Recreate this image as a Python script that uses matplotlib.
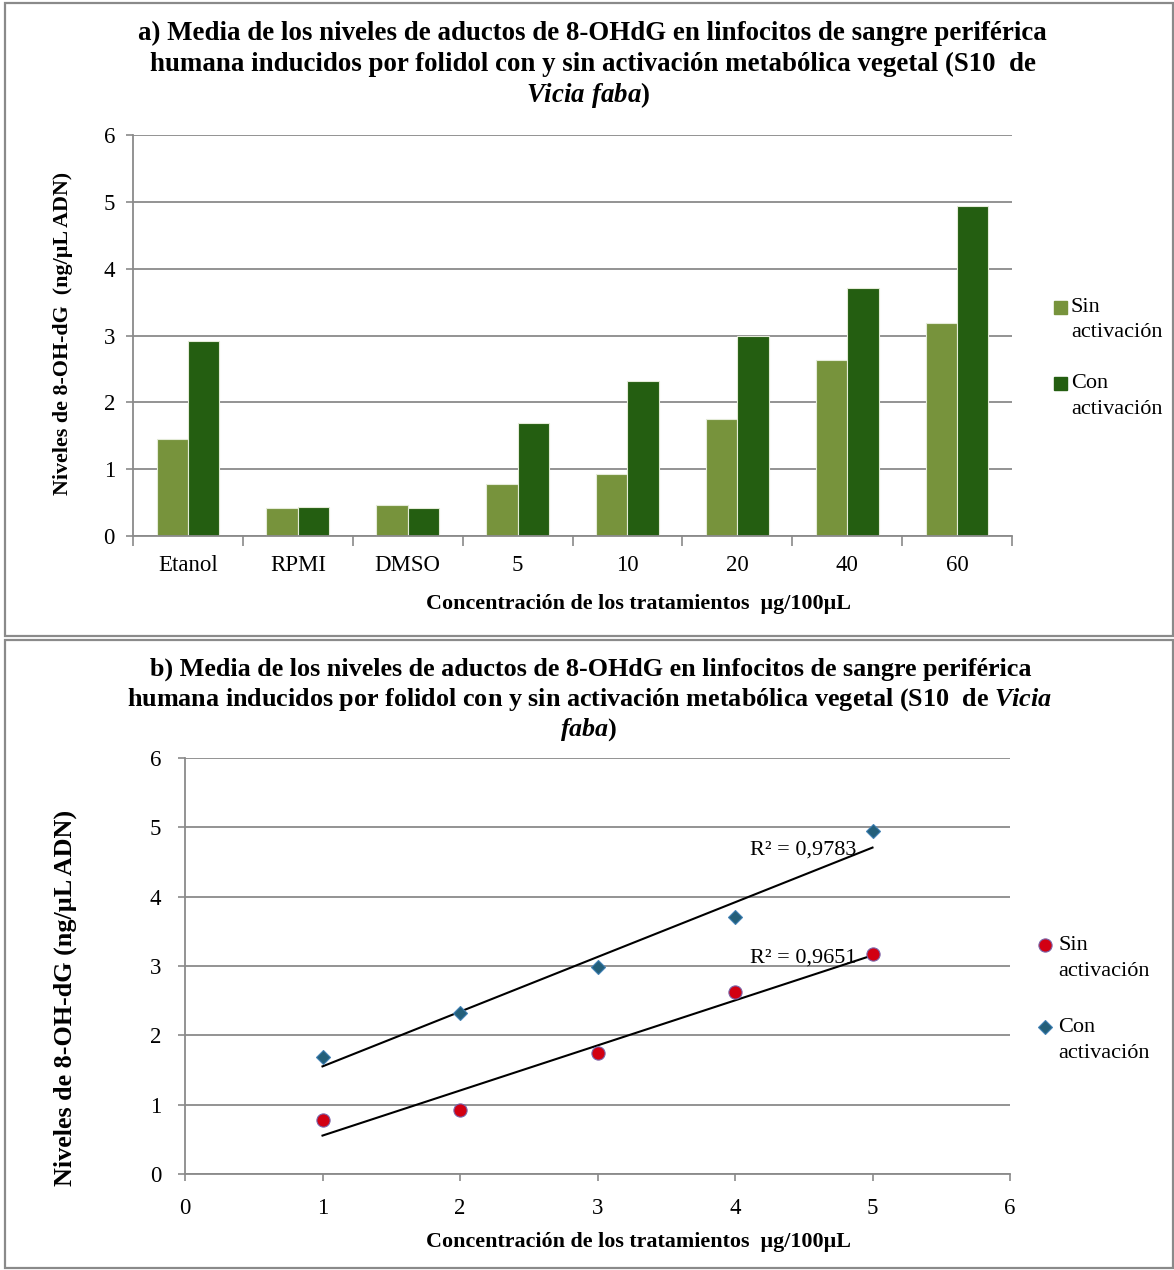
import numpy as np
import matplotlib
matplotlib.use("Agg")
import matplotlib.pyplot as plt
from matplotlib.patches import Rectangle
from matplotlib.lines import Line2D

plt.rcParams["font.family"] = ["Liberation Serif", "DejaVu Serif"]
plt.rcParams["mathtext.fontset"] = "custom"
plt.rcParams["mathtext.it"] = "Liberation Serif:italic:bold"
plt.rcParams["mathtext.rm"] = "Liberation Serif:bold"

# mean 8-OHdG adduct levels (ng/uL DNA)
categories = ["Etanol", "RPMI", "DMSO", "5", "10", "20", "40", "60"]
sin_activacion = [1.45, 0.42, 0.46, 0.78, 0.93, 1.75, 2.63, 3.18]
con_activacion = [2.92, 0.44, 0.42, 1.69, 2.32, 2.99, 3.71, 4.94]

# scatter panel: treatment doses only, plotted at positions 1..5
dose_pos = [1, 2, 3, 4, 5]
sin_dosis = sin_activacion[3:]
con_dosis = con_activacion[3:]
r2_labels = {"con": "R² = 0,9783", "sin": "R² = 0,9651"}

C_SIN = "#77933c"
C_CON = "#245e11"
GRID = "#8a8a8a"
W, H = 1174, 1270

fig = plt.figure(figsize=(W / 100, H / 100), dpi=100)


def fx(px):
    return px / W


def fy(py):
    return 1 - py / H


def style_axes(ax):
    ax.set_ylim(0, 6)
    ax.set_yticks(range(7))
    ax.yaxis.grid(True, color=GRID, lw=1.3)
    ax.set_axisbelow(True)
    for s in ("top", "right"):
        ax.spines[s].set_visible(False)
    for s in ("left", "bottom"):
        ax.spines[s].set_color(GRID)
        ax.spines[s].set_linewidth(1.3)
    ax.tick_params(colors=GRID, labelcolor="black", labelsize=16.5,
                   length=5, width=1.2, direction="out")


# panel frames
for y0, y1 in ((3, 636), (640, 1268)):
    fig.patches.append(Rectangle((fx(5), fy(y1)), fx(1168), (y1 - y0) / H,
                                 transform=fig.transFigure, fill=False,
                                 ec="#8a8a8a", lw=1.6))

# ---- a) bars
ax1 = fig.add_axes([fx(133), fy(536), fx(1012 - 133), (536 - 135) / H])
x = np.arange(len(categories))
w = 0.286
ax1.bar(x - w / 2, sin_activacion, w, color=C_SIN, ec="#e4ebd8", lw=0.8)
ax1.bar(x + w / 2, con_activacion, w, color=C_CON, ec="#e4ebd8", lw=0.8)
ax1.set_xlim(-0.5, len(categories) - 0.5)
style_axes(ax1)
ax1.set_xticks(x, categories)
ax1.set_xticks(np.arange(-0.5, len(categories)), minor=True)
ax1.tick_params(axis="x", which="major", length=0, pad=14)
ax1.tick_params(axis="x", which="minor", length=7, width=1.2, color=GRID)
ax1.tick_params(axis="y", pad=8)

ta = dict(ha="center", va="center", fontsize=19.4, fontweight="bold")
fig.text(fx(592), fy(33), "a) Media de los niveles de aductos de 8-OHdG en "
         "linfocitos de sangre periférica", **ta)
fig.text(fx(593), fy(64), "humana inducidos por folidol con y sin activación "
         "metabólica vegetal (S10  de", **ta)
fig.text(fx(588), fy(95), r"$\mathit{Vicia\ faba}$)", **ta)

fig.text(fx(63), fy(333), "Niveles de 8-OH-dG  (ng/µL ADN)", rotation=90,
         ha="center", va="center", fontsize=15.8, fontweight="bold")
fig.text(fx(638), fy(604), "Concentración de los tratamientos  µg/100µL",
         ha="center", va="center", fontsize=15.8, fontweight="bold")

for ytop, col, lab in ((301, C_SIN, "Sin"), (377, C_CON, "Con")):
    fig.patches.append(Rectangle((fx(1054), fy(ytop + 13)), fx(13), 13 / H,
                                 transform=fig.transFigure, color=col))
    fig.text(fx(1071), fy(ytop + 7), lab, ha="left", va="center", fontsize=16)
    fig.text(fx(1071), fy(ytop + 32), "activación", ha="left", va="center",
             fontsize=16)

# ---- b) scatter with linear trendlines
ax2 = fig.add_axes([fx(185), fy(1174), fx(1010 - 185), (1174 - 758) / H])
ax2.set_xlim(0, 6)
ax2.set_xticks(range(7))
style_axes(ax2)
ax2.tick_params(axis="x", pad=12)
ax2.tick_params(axis="y", pad=12)

circ = dict(marker="o", ms=9.5, mfc="#d20012", mec="#7a62a8", mew=0.8)
diam = dict(marker="D", ms=7.5, mfc="#235f7a", mec="#3f7fb3", mew=0.8)
ax2.plot(dose_pos, sin_dosis, ls="none", zorder=4, **circ)
ax2.plot(dose_pos, con_dosis, ls="none", zorder=4, **diam)

xp = np.array(dose_pos, float)
for ys in (sin_dosis, con_dosis):
    b, a = np.polyfit(xp, ys, 1)
    ax2.plot([xp[0], xp[-1]], [a + b * xp[0], a + b * xp[-1]], color="black",
             lw=1.5, zorder=3)
ax2.text(4.88, 4.67, r2_labels["con"], ha="right", va="center", fontsize=16)
ax2.text(4.88, 3.12, r2_labels["sin"], ha="right", va="center", fontsize=16)

tb = dict(ta, fontsize=18.8)
fig.text(fx(591), fy(669), "b) Media de los niveles de aductos de 8-OHdG en "
         "linfocitos de sangre periférica", **tb)
fig.text(fx(590), fy(700), "humana inducidos por folidol con y sin activación "
         r"metabólica vegetal (S10  de $\mathit{Vicia}$", **tb)
fig.text(fx(589), fy(730), r"$\mathit{faba}$)", **tb)

fig.text(fx(65), fy(998), "Niveles de 8-OH-dG (ng/µL ADN)", rotation=90,
         ha="center", va="center", fontsize=18.8, fontweight="bold")
fig.text(fx(638), fy(1242), "Concentración de los tratamientos  µg/100µL",
         ha="center", va="center", fontsize=15.8, fontweight="bold")

for yc, style, lab in ((945, circ, "Sin"), (1027, diam, "Con")):
    fig.lines.append(Line2D([fx(1045)], [fy(yc)], transform=fig.transFigure,
                            **style))
    fig.text(fx(1058), fy(yc + 1), lab, ha="left", va="center", fontsize=16)
    fig.text(fx(1058), fy(yc + 27), "activación", ha="left", va="center",
             fontsize=16)

fig.savefig("out.png", dpi=100)
